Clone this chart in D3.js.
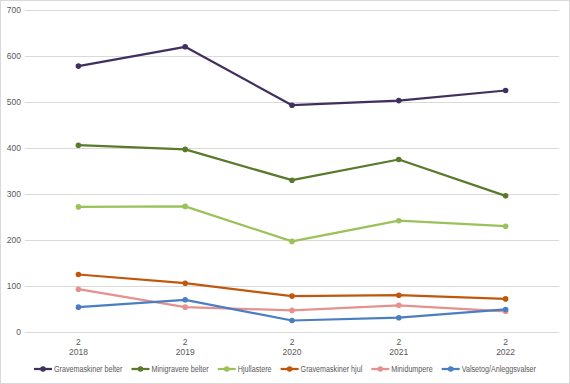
<!DOCTYPE html>
<html lang="no">
<head>
<meta charset="utf-8">
<script src="https://d3js.org/d3.v7.min.js"></script>
<style>
  body { margin: 0; background: #fff; }
  text { font-family: "Liberation Sans", Arial, sans-serif; fill: #595959; }
</style>
</head>
<body>
<div id="chart"></div>
<script>
// data
const years = ["2018", "2019", "2020", "2021", "2022"];
const topLabel = "2";
const seriesNames = ["Gravemaskiner belter", "Minigravere belter", "Hjullastere",
                     "Gravemaskiner hjul", "Minidumpere", "Valsetog/Anleggsvalser"];
const gravemaskinerBelter = [578, 620, 493, 503, 525];
const minigravereBelter   = [406, 397, 330, 375, 296];
const hjullastere         = [272, 273, 197, 242, 230];
const gravemaskinerHjul   = [125, 106, 78, 80, 72];
const minidumpere         = [93, 54, 47, 58, 45];
const valsetog            = [54, 70, 25, 31, 49];
const yTicks = [0, 100, 200, 300, 400, 500, 600, 700];
const colors = ["#41305e", "#587a2a", "#9bc159", "#c0580c", "#e4918f", "#4a7ec3"];

const allValues = [gravemaskinerBelter, minigravereBelter, hjullastere,
                   gravemaskinerHjul, minidumpere, valsetog];
const series = seriesNames.map((n, i) => ({name: n, values: allValues[i], color: colors[i]}));

const W = 570, H = 384;
const margin = {top: 10, right: 11, bottom: 52, left: 25};
const width = W - margin.left - margin.right,
      height = H - margin.top - margin.bottom;

const root = d3.select("#chart").append("svg")
  .attr("width", W).attr("height", H);

// outer border
root.append("rect")
  .attr("x", 0.5).attr("y", 0.5).attr("width", W - 1).attr("height", H - 1)
  .attr("fill", "#fff").attr("stroke", "#d9d9d9");

const svg = root.append("g").attr("transform", `translate(${margin.left},${margin.top})`);

const x = d3.scaleBand().domain(years).range([0, width]);
const y = d3.scaleLinear().domain([0, 700]).range([height, 0]);

// gridlines
svg.append("g").selectAll("line")
  .data(yTicks)
  .join("line")
    .attr("x1", 0).attr("x2", width)
    .attr("y1", d => Math.round(y(d)) + 0.5).attr("y2", d => Math.round(y(d)) + 0.5)
    .attr("stroke", "#d9d9d9").attr("stroke-width", 1);

// y labels
svg.append("g").selectAll("text")
  .data(yTicks)
  .join("text")
    .attr("x", -4).attr("y", d => y(d))
    .attr("dy", "0.35em")
    .attr("text-anchor", "end")
    .style("font-size", "8.5px")
    .text(d => d);

// x labels (two lines)
const xl = svg.append("g").selectAll("g")
  .data(years)
  .join("g")
    .attr("transform", d => `translate(${x(d) + x.bandwidth() / 2},${height})`);
xl.append("text").attr("y", 13).attr("text-anchor", "middle")
  .style("font-size", "8.5px").text(topLabel);
xl.append("text").attr("y", 23).attr("text-anchor", "middle")
  .style("font-size", "8.5px").text(d => d);

// lines
const line = d3.line()
  .x((d, i) => x(years[i]) + x.bandwidth() / 2)
  .y(d => y(d));

const sg = svg.append("g").selectAll("g")
  .data(series)
  .join("g");
sg.append("path")
  .attr("d", d => line(d.values))
  .attr("fill", "none")
  .attr("stroke", d => d.color)
  .attr("stroke-width", 2.25)
  .attr("stroke-linejoin", "round");
sg.selectAll("circle")
  .data(d => d.values.map((v, i) => ({v, i, color: d.color})))
  .join("circle")
    .attr("cx", d => x(years[d.i]) + x.bandwidth() / 2)
    .attr("cy", d => y(d.v))
    .attr("r", 2.8)
    .attr("fill", d => d.color);

// legend
const legend = root.append("g").attr("transform", `translate(0,${H - 15})`);
const items = legend.selectAll("g")
  .data(series)
  .join("g");
items.append("line")
  .attr("x1", 0).attr("x2", 18).attr("y1", 0).attr("y2", 0)
  .attr("stroke", d => d.color).attr("stroke-width", 2.25);
items.append("circle")
  .attr("cx", 9).attr("cy", 0).attr("r", 2.8)
  .attr("fill", d => d.color);
const ltext = items.append("text")
  .attr("dy", "0.35em")
  .style("font-size", "9px")
  .text(d => d.name);

// squeeze legend text horizontally (narrow font stand-in) to span like the original
const gap = 9, sym = 20, targetTotal = 502;
const raw = [];
ltext.each(function() { raw.push(this.getComputedTextLength()); });
const sx = Math.min(1, (targetTotal - gap * (raw.length - 1) - sym * raw.length) / d3.sum(raw));
ltext.attr("transform", `translate(${sym},0) scale(${sx},1)`);
const widths = raw.map(w => w * sx + sym);
const total = d3.sum(widths) + gap * (widths.length - 1);
let cx = (W - total) / 2;
items.attr("transform", (d, i) => {
  const t = `translate(${cx},0)`;
  cx += widths[i] + gap;
  return t;
});
</script>
</body>
</html>
